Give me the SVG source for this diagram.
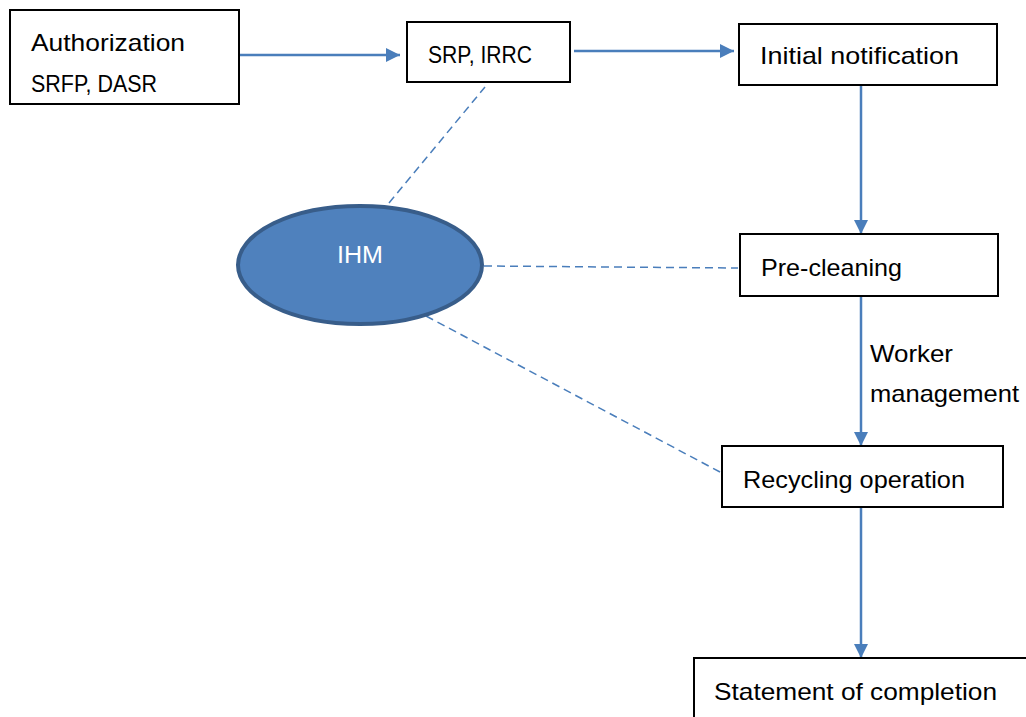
<svg xmlns="http://www.w3.org/2000/svg" width="1026" height="717" viewBox="0 0 1026 717">
<style>
.box{fill:#fff;stroke:#000;stroke-width:2}
.t{font-family:"Liberation Sans",Arial,sans-serif;font-size:24px;fill:#000}
.flow{stroke:#4a7ebb;stroke-width:2.5;fill:none}
.dash{stroke:#4a7ebb;stroke-width:1.5;fill:none;stroke-dasharray:8,5}
</style>
<defs>
<marker id="ah" markerWidth="14" markerHeight="14" refX="14" refY="7" orient="auto" markerUnits="userSpaceOnUse" viewBox="0 0 14 14">
<path d="M0,0 L14,7 L0,14 z" fill="#4a7ebb"/>
</marker>
</defs>
<rect width="1026" height="717" fill="#fff"/>
<g id="connectors">
<line class="flow" x1="240" y1="55" x2="400" y2="55" marker-end="url(#ah)"/>
<line class="flow" x1="574" y1="51" x2="734" y2="51" marker-end="url(#ah)"/>
<line class="flow" x1="861" y1="85" x2="861" y2="234" marker-end="url(#ah)"/>
<line class="flow" x1="861" y1="296" x2="861" y2="446" marker-end="url(#ah)"/>
<line class="flow" x1="861" y1="507" x2="861" y2="658" marker-end="url(#ah)"/>
<line class="dash" x1="389" y1="203" x2="485" y2="87"/>
<line class="dash" x1="484" y1="266" x2="738" y2="268"/>
<line class="dash" x1="426" y1="316" x2="720" y2="472"/>
<text class="t" x="870" y="362" textLength="83" lengthAdjust="spacingAndGlyphs">Worker</text>
<text class="t" x="870" y="402" textLength="149" lengthAdjust="spacingAndGlyphs">management</text>
</g>
<g id="n-authorization">
<rect class="box" x="10" y="10" width="229" height="94"/>
<text class="t" x="31" y="51" textLength="154" lengthAdjust="spacingAndGlyphs">Authorization</text>
<text class="t" x="31" y="92" textLength="126" lengthAdjust="spacingAndGlyphs">SRFP, DASR</text>
</g>
<g id="n-srp">
<rect class="box" x="407" y="22" width="163" height="60"/>
<text class="t" x="428" y="63" textLength="104" lengthAdjust="spacingAndGlyphs">SRP, IRRC</text>
</g>
<g id="n-initial">
<rect class="box" x="739" y="24" width="258" height="61"/>
<text class="t" x="760" y="64" textLength="199" lengthAdjust="spacingAndGlyphs">Initial notification</text>
</g>
<g id="n-precleaning">
<rect class="box" x="740" y="234" width="258" height="62"/>
<text class="t" x="761" y="276" textLength="141" lengthAdjust="spacingAndGlyphs">Pre-cleaning</text>
</g>
<g id="n-recycling">
<rect class="box" x="722" y="446" width="281" height="61"/>
<text class="t" x="743" y="488" textLength="222" lengthAdjust="spacingAndGlyphs">Recycling operation</text>
</g>
<g id="n-statement">
<rect class="box" x="694" y="658" width="340" height="70"/>
<text class="t" x="714" y="700" textLength="283" lengthAdjust="spacingAndGlyphs">Statement of completion</text>
</g>
<g id="n-ihm">
<ellipse cx="360" cy="265" rx="122" ry="59" fill="#4f81bd" stroke="#385d8a" stroke-width="4"/>
<text x="360" y="263" text-anchor="middle" font-family="Liberation Sans,Arial,sans-serif" font-size="23" fill="#fff" textLength="46" lengthAdjust="spacingAndGlyphs">IHM</text>
</g>
</svg>
